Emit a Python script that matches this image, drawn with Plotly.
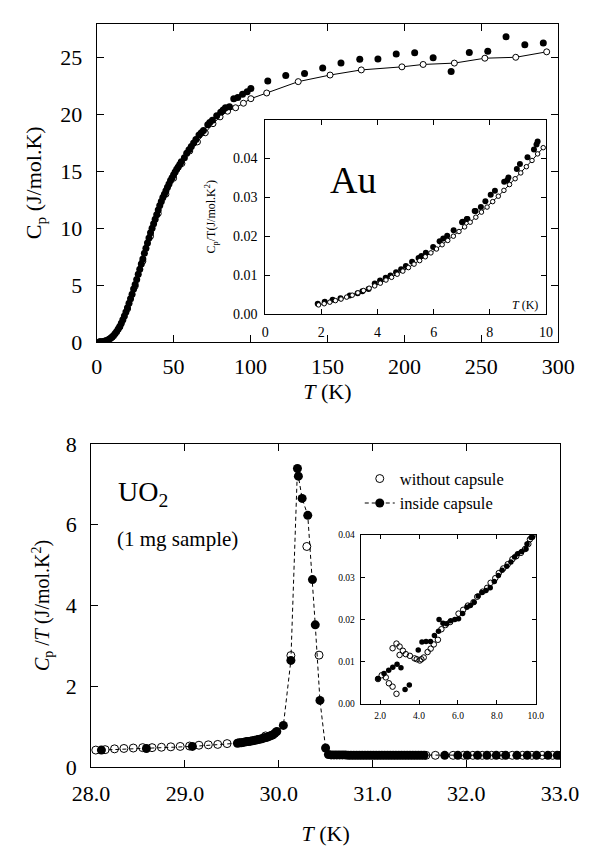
import plotly.graph_objects as go

# ---------------- Au: heat capacity, 2 K - 300 K ----------------
au_T_meas = [2, 3, 4, 5, 6, 7, 8, 9, 10, 11, 12, 13, 14, 15, 16, 17, 18, 19, 20,
             21, 22, 23, 24, 25, 26, 27, 28, 29, 30, 31, 32, 33, 34, 35, 36, 37, 38,
             39, 40, 41, 42, 43, 44, 45, 46, 47, 48, 49, 50, 51, 52, 53, 54, 55,
             57, 58.5, 60, 61.5, 63, 64.5, 66.5, 68, 69.4, 72.2, 73.5, 75.2, 78.0,
             80.6, 82.2, 83.7, 86.3, 89.1, 91.7, 94.8, 97.8, 100.2,
             111.2, 122.9, 135.1, 146.9, 158.8, 171.0, 182.8, 194.7, 206.7, 218.7,
             230.4, 242.2, 254.2, 266.1, 278.3, 290.3]
au_Cp_meas = [0.01, 0.02, 0.03, 0.06, 0.10, 0.16, 0.23, 0.32, 0.44, 0.58, 0.74, 0.92,
              1.13, 1.37, 1.64, 1.95, 2.28, 2.63, 3.00, 3.40, 3.80, 4.20, 4.65, 5.05,
              5.50, 5.95, 6.40, 6.85, 7.30, 7.80, 8.25, 8.70, 9.15, 9.60, 10.00, 10.40,
              10.80, 11.20, 11.60, 12.00, 12.35, 12.70, 13.00, 13.30, 13.60, 13.90,
              14.20, 14.45, 14.70, 14.95, 15.20, 15.40, 15.60, 15.85,
              16.20, 16.60, 16.90, 17.20, 17.50, 17.80, 18.20, 18.40, 18.60, 19.10,
              19.30, 19.50, 19.90, 20.20, 20.40, 20.60, 20.70, 21.40, 21.50, 21.80,
              22.00, 22.30,
              22.96, 23.45, 23.62, 24.10, 24.53, 24.87, 24.90, 25.33, 25.44, 25.01,
              23.79, 25.47, 25.58, 26.84, 26.15, 26.29]

au_T_ref = [2, 5, 10, 15, 20, 25, 30, 35, 40, 45, 50, 55.4, 60.5, 65.5, 70.6, 75.6,
            80.2, 85.1, 90.3, 95.4, 100.2, 110.5, 131.0, 151.7, 172.0, 198.4, 212.2,
            232.5, 252.3, 272.4, 292.5]
au_Cp_ref = [0.01, 0.05, 0.42, 1.33, 2.90, 4.90, 7.10, 9.30, 11.30, 13.00, 14.40,
             15.70, 16.80, 17.60, 18.40, 19.20, 19.80, 20.30, 20.60, 21.00, 21.40,
             21.90, 22.90, 23.48, 23.93, 24.20, 24.41, 24.53, 24.96, 25.04, 25.52]

# ---------------- Au: Cp/T below 10 K ----------------
au_lt_T_meas = [1.87, 2.12, 2.40, 2.68, 3.01, 3.29, 3.46, 3.68, 3.90, 4.09, 4.29, 4.46,
                4.66, 4.84, 5.01, 5.23, 5.46, 5.56, 5.72, 5.98, 6.21, 6.34, 6.48, 6.71,
                7.01, 7.03, 7.18, 7.20, 7.46, 7.49, 7.68, 7.84, 8.03, 8.18, 8.51, 8.62,
                8.66, 8.96, 9.07, 9.34, 9.57, 9.66, 9.70]
au_lt_y_meas = [0.0026, 0.0031, 0.0036, 0.0040, 0.0047, 0.0053, 0.0058, 0.0064, 0.0078,
                0.0086, 0.0093, 0.0099, 0.0107, 0.0115, 0.0123, 0.0134, 0.0144, 0.0149,
                0.0157, 0.0172, 0.0187, 0.0194, 0.0201, 0.0215, 0.0236, 0.0237, 0.0244,
                0.0244, 0.0265, 0.0265, 0.0275, 0.0290, 0.0307, 0.0317, 0.0340, 0.0344,
                0.0351, 0.0373, 0.0386, 0.0403, 0.0423, 0.0436, 0.0444]

au_lt_T_ref = [1.9, 2.1, 2.3, 2.5, 2.7, 2.9, 3.1, 3.3, 3.5, 3.7, 3.9, 4.1, 4.3, 4.5,
               4.7, 4.9, 5.1, 5.3, 5.5, 5.7, 5.9, 6.1, 6.3, 6.5, 6.7, 6.9, 7.1, 7.3,
               7.5, 7.7, 7.9, 8.1, 8.3, 8.5, 8.7, 8.9, 9.1, 9.3, 9.5, 9.7, 9.9]
au_lt_y_ref = [0.0023, 0.0026, 0.0030, 0.0034, 0.0038, 0.0043, 0.0048, 0.0054, 0.0060,
               0.0066, 0.0072, 0.0079, 0.0087, 0.0094, 0.0102, 0.0110, 0.0119, 0.0128,
               0.0137, 0.0147, 0.0157, 0.0167, 0.0178, 0.0189, 0.0200, 0.0212, 0.0224,
               0.0236, 0.0249, 0.0262, 0.0275, 0.0289, 0.0303, 0.0318, 0.0333, 0.0348,
               0.0363, 0.0379, 0.0395, 0.0412, 0.0428]

# ---------------- UO2: Cp/T across the Neel transition ----------------
uo2_T_free = [28.05, 28.15, 28.25, 28.35, 28.45, 28.55, 28.65, 28.75, 28.85, 28.95,
              29.05, 29.15, 29.25, 29.35, 29.45, 29.86, 30.13, 30.30, 30.43, 31.57,
              31.67, 31.86, 31.97, 32.07, 32.17, 32.27, 32.38, 32.49, 32.60, 32.70,
              32.81, 32.92, 33.00]
uo2_y_free = [0.42, 0.43, 0.45, 0.46, 0.47, 0.48, 0.48, 0.49, 0.50, 0.51, 0.52, 0.54,
              0.55, 0.56, 0.58, 0.77, 2.76, 5.46, 2.77, 0.29,
              0.29, 0.29, 0.29, 0.29, 0.29, 0.29, 0.29, 0.29, 0.29, 0.29,
              0.29, 0.29, 0.29]

uo2_T_caps = [28.11, 28.59, 29.08, 29.56, 29.58, 29.60, 29.62, 29.64, 29.66, 29.68,
              29.70, 29.72, 29.74, 29.76, 29.78, 29.80, 29.82, 29.84, 29.86, 29.88,
              29.90, 29.92, 29.94, 29.96, 29.98, 30.05, 30.13, 30.20, 30.21, 30.25,
              30.31, 30.36, 30.39, 30.44, 30.50,
              30.53, 30.56, 30.59, 30.62, 30.65, 30.68, 30.71, 30.74, 30.77, 30.80,
              30.83, 30.86, 30.89, 30.92, 30.95, 30.98, 31.01, 31.04, 31.07, 31.10,
              31.13, 31.16, 31.19, 31.22, 31.25, 31.28, 31.31, 31.34, 31.37, 31.40,
              31.43, 31.46, 31.49, 31.52, 31.55,
              31.77, 31.91, 32.01, 32.12, 32.22, 32.32, 32.42, 32.54, 32.65, 32.75,
              32.87, 32.97]
uo2_y_caps = [0.42, 0.46, 0.51, 0.59, 0.60, 0.60, 0.61, 0.62, 0.63, 0.63,
              0.64, 0.65, 0.66, 0.67, 0.68, 0.69, 0.70, 0.72, 0.73, 0.74,
              0.76, 0.78, 0.80, 0.84, 0.88, 1.03, 2.64, 7.39, 7.20, 6.65,
              6.23, 4.64, 3.52, 1.65, 0.47,
              0.31, 0.30, 0.30, 0.30, 0.30, 0.30, 0.30, 0.29, 0.29, 0.29,
              0.29, 0.29, 0.29, 0.29, 0.29, 0.29, 0.29, 0.29, 0.29, 0.29,
              0.29, 0.29, 0.29, 0.29, 0.29, 0.29, 0.29, 0.29, 0.29, 0.29,
              0.29, 0.29, 0.29, 0.29, 0.29,
              0.29, 0.29, 0.29, 0.29, 0.29, 0.29, 0.29, 0.29, 0.29, 0.29,
              0.29, 0.29]

# ---------------- UO2: Cp/T at low temperature ----------------
uo2_lt_T_free = [1.89, 2.08, 2.29, 2.45, 2.64, 2.84, 2.64, 2.84, 3.00, 3.17, 3.00,
                 3.32, 3.53, 3.77, 3.88, 4.04, 4.12, 4.24, 4.44, 4.60, 4.76, 4.97,
                 5.15, 5.36, 5.60, 6.03, 6.27, 6.51, 6.80, 6.99, 7.27, 7.50, 7.68,
                 7.92, 8.10, 8.33, 8.56, 8.80, 9.00, 9.24, 9.45, 9.62, 9.70, 9.85]
uo2_lt_y_free = [0.0059, 0.0068, 0.0063, 0.0049, 0.0041, 0.0024, 0.0132, 0.0143,
                 0.0136, 0.0126, 0.0116, 0.0118, 0.0114, 0.0108, 0.0106, 0.0103,
                 0.0106, 0.0110, 0.0123, 0.0131, 0.0141, 0.0152, 0.0177, 0.0187,
                 0.0194, 0.0214, 0.0223, 0.0233, 0.0241, 0.0254, 0.0266, 0.0275,
                 0.0287, 0.0298, 0.0310, 0.0321, 0.0331, 0.0343, 0.0350, 0.0358,
                 0.0367, 0.0379, 0.0390, 0.0399]

uo2_lt_T_caps = [1.89, 2.20, 2.44, 2.65, 2.87, 3.07, 3.28, 3.50, 3.96, 4.15, 4.36,
                 4.59, 4.79, 5.00, 5.03, 5.23, 5.42, 5.63, 5.84, 6.03, 6.24, 6.46,
                 6.64, 6.83, 7.04, 7.23, 7.44, 7.66, 7.87, 8.08, 8.27, 8.51, 8.72,
                 8.91, 9.07, 9.28, 9.50, 9.55, 9.76, 9.83]
uo2_lt_y_caps = [0.0060, 0.0072, 0.0080, 0.0087, 0.0094, 0.0086, 0.0034, 0.0045,
                 0.0128, 0.0147, 0.0148, 0.0148, 0.0162, 0.0172, 0.0200, 0.0191,
                 0.0190, 0.0197, 0.0200, 0.0202, 0.0214, 0.0229, 0.0233, 0.0241,
                 0.0256, 0.0264, 0.0269, 0.0275, 0.0290, 0.0304, 0.0317, 0.0326,
                 0.0336, 0.0348, 0.0356, 0.0361, 0.0367, 0.0379, 0.0394, 0.0395]

FONT = "Liberation Serif"
W, H = 595, 847


def xdom(a, b):
    return [a / W, b / W]


def ydom(top, bottom):
    return [(H - bottom) / H, (H - top) / H]


def serif(size):
    return dict(family=FONT, size=size, color="black")


fig = go.Figure()

# Au, main panel
fig.add_trace(go.Scatter(x=au_T_ref, y=au_Cp_ref, mode="lines+markers",
                         line=dict(color="black", width=1),
                         marker=dict(symbol="circle", size=6, color="white",
                                     line=dict(color="black", width=1)),
                         xaxis="x", yaxis="y", showlegend=False))
fig.add_trace(go.Scatter(x=au_T_meas, y=au_Cp_meas, mode="markers",
                         marker=dict(symbol="circle", size=7, color="black"),
                         xaxis="x", yaxis="y", showlegend=False))

# Au, Cp/T inset
fig.add_trace(go.Scatter(x=au_lt_T_meas, y=au_lt_y_meas, mode="markers",
                         marker=dict(symbol="circle", size=6, color="black"),
                         xaxis="x2", yaxis="y2", showlegend=False))
fig.add_trace(go.Scatter(x=au_lt_T_ref, y=au_lt_y_ref, mode="lines+markers",
                         line=dict(color="black", width=1),
                         marker=dict(symbol="circle", size=4.5, color="white",
                                     line=dict(color="black", width=1)),
                         xaxis="x2", yaxis="y2", showlegend=False))

# UO2, main panel
fig.add_trace(go.Scatter(x=uo2_T_free, y=uo2_y_free, mode="markers",
                         name="without capsule",
                         marker=dict(symbol="circle-open", size=8, color="black",
                                     line=dict(color="black", width=1)),
                         xaxis="x3", yaxis="y3"))
fig.add_trace(go.Scatter(x=uo2_T_caps, y=uo2_y_caps, mode="lines+markers",
                         name="inside capsule",
                         line=dict(color="black", width=1, dash="4px,3px"),
                         marker=dict(symbol="circle", size=9, color="black"),
                         xaxis="x3", yaxis="y3"))

# UO2, low-temperature inset
fig.add_trace(go.Scatter(x=uo2_lt_T_caps, y=uo2_lt_y_caps, mode="markers",
                         marker=dict(symbol="circle", size=5.5, color="black"),
                         xaxis="x4", yaxis="y4", showlegend=False))
fig.add_trace(go.Scatter(x=uo2_lt_T_free, y=uo2_lt_y_free, mode="markers",
                         marker=dict(symbol="circle-open", size=5.5, color="black",
                                     line=dict(color="black", width=1)),
                         xaxis="x4", yaxis="y4", showlegend=False))

axis_common = dict(showline=True, linecolor="black", linewidth=1, ticks="inside",
                   tickcolor="black", showgrid=False, zeroline=False,
                   tickfont=serif(22))

inset_common = dict(showline=True, linecolor="black", linewidth=1, ticks="inside",
                    tickcolor="black", showgrid=False, zeroline=False, mirror="ticks")

fig.update_layout(
    width=W, height=H, margin=dict(l=0, r=0, t=0, b=0),
    paper_bgcolor="white", plot_bgcolor="rgba(0,0,0,0)",
    font=dict(family=FONT, color="black"),
    xaxis=dict(axis_common, domain=xdom(83, 576), anchor="y", range=[0, 300],
               dtick=50, tick0=0, mirror="ticks", ticklen=7, ticklabelstandoff=5,
               title=dict(text="<i>T</i> (K)", font=serif(22), standoff=2)),
    yaxis=dict(axis_common, domain=ydom(12, 340), anchor="x", range=[0, 28],
               dtick=5, tick0=0, mirror="ticks", ticklen=7, ticklabelstandoff=9,
               title=dict(text="C<sub>p</sub> (J/mol.K)", font=serif(22), standoff=12)),
    xaxis2=dict(inset_common, domain=xdom(263, 563), anchor="y2", range=[0, 10],
                dtick=2, tick0=0, ticklen=5, ticklabelstandoff=5,
                tickfont=serif(14)),
    yaxis2=dict(inset_common, domain=ydom(111, 311), anchor="x2", range=[0, 0.05],
                ticklen=5, tickformat=".2f", ticklabelstandoff=4,
                tickvals=[0, 0.01, 0.02, 0.03, 0.04],
                tickfont=serif(14),
                title=dict(text="C<sub>p</sub>/T(J/mol.K<sup>2</sup>)",
                           font=serif(12), standoff=14)),
    xaxis3=dict(axis_common, domain=xdom(77, 578), anchor="y3", range=[28, 33],
                dtick=1, tick0=28, tickformat=".1f", mirror="ticks", ticklen=7,
                ticklabelstandoff=7,
                title=dict(text="<i>T</i> (K)", font=serif(22), standoff=20)),
    yaxis3=dict(axis_common, domain=ydom(445, 778), anchor="x3", range=[0, 8],
                dtick=2, tick0=0, mirror=True, ticklen=7, ticklabelstandoff=9,
                title=dict(text="<i>C</i><sub>p</sub> /<i>T</i> (J/mol.K<sup>2</sup>)",
                           font=serif(20), standoff=10)),
    xaxis4=dict(inset_common, domain=xdom(365, 552), anchor="y4", range=[1, 10],
                dtick=2, tick0=2, ticklen=4, tickformat=".1f", ticklabelstandoff=3,
                tickfont=serif(9.5)),
    yaxis4=dict(inset_common, domain=ydom(539, 713), anchor="x4", range=[0, 0.04],
                dtick=0.01, tick0=0, ticklen=4, tickformat=".2f", ticklabelstandoff=3,
                tickfont=serif(9.5)),
    legend=dict(x=364 / W, y=(H - 463) / H, xanchor="left", yanchor="top",
                bgcolor="rgba(0,0,0,0)", borderwidth=0, tracegroupgap=0,
                itemwidth=30, font=serif(16.5)),
    annotations=[
        dict(text="Au", x=357 / W, y=(H - 173) / H, xref="paper", yref="paper",
             xanchor="center", yanchor="middle", showarrow=False, font=serif(38)),
        dict(text="<i>T</i> (K)", x=9.25, y=0.0022, xref="x2", yref="y2",
             showarrow=False, font=serif(12)),
        dict(text="UO<sub>2</sub>", x=104 / W, y=(H - 496) / H, xref="paper",
             yref="paper", xanchor="left", yanchor="middle", showarrow=False,
             font=serif(28)),
        dict(text="(1 mg sample)", x=103 / W, y=(H - 543) / H, xref="paper",
             yref="paper", xanchor="left", yanchor="middle", showarrow=False,
             font=serif(21)),
    ],
)

fig.write_html("out.html")
